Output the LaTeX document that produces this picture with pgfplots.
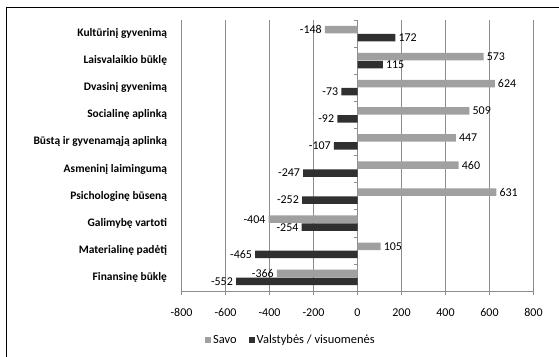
\documentclass[border=0pt]{standalone}
\usepackage{fontspec}
\setmainfont{Carlito}
\usepackage{pgfplots}
\pgfplotsset{compat=1.18}
\definecolor{savo}{HTML}{A0A0A0}
\definecolor{valst}{HTML}{303030}
\definecolor{gridc}{HTML}{8C8C8C}
\begin{document}
\begin{tikzpicture}
\path[use as bounding box] (0,0) rectangle (559bp,357bp);
\draw[line width=0.8bp] (6bp,0) -- (6bp,350bp) -- (559bp,350bp);
\begin{axis}[
  at={(181.5bp,66bp)}, anchor=south west,
  scale only axis, width=352bp, height=271bp,
  xmin=-800, xmax=800, ymin=-0.5, ymax=9.5,
  xbar, bar width=7.5bp,
  xtick={-800,-600,...,800},
  ytick={0,...,9},
  yticklabels={Finansinę būklę, Materialinę padėtį, Galimybę vartoti, Psichologinę būseną, Asmeninį laimingumą, Būstą ir gyvenamąją aplinką, Socialinę aplinką, Dvasinį gyvenimą, Laisvalaikio būklę, Kultūrinį gyvenimą},
  axis x line*=bottom, axis y line*=left,
  y axis line style={draw=none},
  ytick style={draw=none},
  x axis line style={gridc},
  xtick style={gridc},
  tick align=outside, major tick length=4bp,
  xmajorgrids, grid style={gridc},
  /pgf/number format/assume math mode=true,
  xticklabel style={font=\fontsize{12}{14}\selectfont, yshift=-10bp},
  yticklabel style={font=\fontsize{11.5}{14}\selectfont\bfseries, xshift=-7bp},
  nodes near coords, nodes near coords align=horizontal,
  every node near coord/.append style={font=\fontsize{12}{14}\selectfont, black, inner sep=3bp},
  legend columns=2,
  legend style={at={(0.311,-0.181)}, anchor=center, draw=none, fill=none,
    font=\fontsize{12.5}{14}\selectfont, /tikz/every even column/.append style={column sep=10bp}},
  legend image code/.code={\fill[#1] (0bp,-3bp) rectangle (6bp,3bp);},
]
\addplot[fill=savo, draw=none, bar shift=4bp] coordinates {(-366,0) (105,1) (-404,2) (631,3) (460,4) (447,5) (509,6) (624,7) (573,8) (-148,9)};
\addplot[fill=valst, draw=none, bar shift=-4bp] coordinates {(-552,0) (-465,1) (-254,2) (-252,3) (-247,4) (-107,5) (-92,6) (-73,7) (115,8) (172,9)};
\legend{Savo, Valstybės / visuomenės}
\pgfplotsinvokeforeach{0,...,10}{\draw[gridc] (axis cs:-14,#1-0.5) -- (axis cs:0,#1-0.5);}
\end{axis}
\end{tikzpicture}
\end{document}
